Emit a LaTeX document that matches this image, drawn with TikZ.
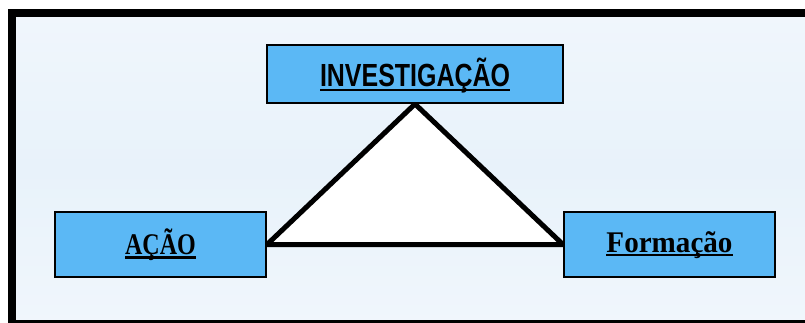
\documentclass[tikz,border=0pt]{standalone}
\usepackage{fontspec}
\setmainfont{Liberation Serif}
\newfontfamily\condsans{Liberation Sans}
\pgfdeclarelayer{bg}\pgfdeclarelayer{tri}\pgfsetlayers{bg,tri,main}
\definecolor{boxblue}{RGB}{91,184,245}
\definecolor{bgtop}{RGB}{240,246,252}
\definecolor{bgmid}{RGB}{232,242,250}
\newcommand\myul[2][2.2pt]{\setbox0=\hbox{#2}\rlap{\rule[-4pt]{\wd0}{#1}}\box0}
\begin{document}
\begin{tikzpicture}[x=1pt,y=-1pt,
  box/.style={draw=black,line width=2pt,fill=boxblue,inner sep=0pt},
  topbox/.style={box,minimum width=296pt,minimum height=58pt},
  sidebox/.style={box,minimum width=211pt,minimum height=65pt},
  toplabel/.style={font=\condsans\bfseries\fontsize{32}{32}\selectfont},
  sidelabel/.style={font=\bfseries\fontsize{30}{30}\selectfont}]
\useasboundingbox (0,0) rectangle (805,322);
\begin{pgfonlayer}{bg}
  \fill[white] (0,0) rectangle (805,322);
  \shade[top color=bgtop,bottom color=bgtop,middle color=bgmid] (12,13) rectangle (830,324);
  \draw[line width=8pt] (12,13) rectangle (830,324);
\end{pgfonlayer}
\node[topbox] (inv) at (415,74) {};
\node[toplabel] (invt) at (415,76) {\scalebox{0.78}[1]{\myul{INVESTIGAÇÃO}}};
\node[sidebox] (acao) at (160.5,244.5) {};
\node[sidelabel] (acaot) at (160.5,245) {\scalebox{0.8}[1]{\myul[2.6pt]{AÇÃO}}};
\node[sidebox] (form) at (669.5,244.5) {};
\node[sidelabel] (formt) at (669.5,245) {\scalebox{0.97}[1]{\myul[2.6pt]{Formação}}};
\begin{pgfonlayer}{tri}
  \draw[line width=5pt,line join=round,fill=white] (inv.south) -- (acao.east) -- (form.west) -- cycle;
\end{pgfonlayer}
\end{tikzpicture}
\end{document}
